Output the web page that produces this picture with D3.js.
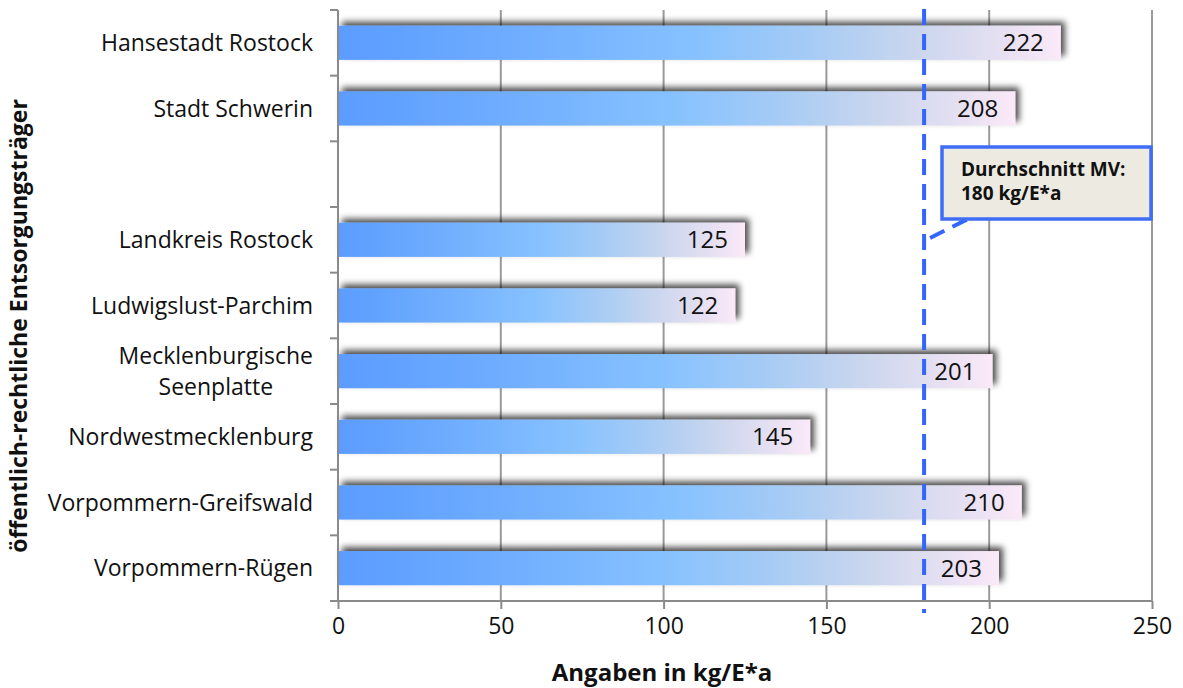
<!DOCTYPE html>
<html>
<head>
<meta charset="utf-8">
<script src="https://cdn.jsdelivr.net/npm/d3@7"></script>
<style>
  html, body { margin: 0; padding: 0; background: #fff; }
  svg { display: block; }
  text { font-family: "Open Sans", "Noto Sans", sans-serif; fill: #111; }
</style>
</head>
<body>
<svg id="chart" width="1183" height="688"></svg>
<script>
// Rows of the chart; the empty entry is a visual gap between the two cities and the districts
const categories = [
  "Hansestadt Rostock",
  "Stadt Schwerin",
  "",
  "Landkreis Rostock",
  "Ludwigslust-Parchim",
  "Mecklenburgische Seenplatte",
  "Nordwestmecklenburg",
  "Vorpommern-Greifswald",
  "Vorpommern-Rügen"
];
const values = [222, 208, null, 125, 122, 201, 145, 210, 203];
const categoryLines = {
  "Mecklenburgische Seenplatte": ["Mecklenburgische", "Seenplatte"]
};
const xTicks = [0, 50, 100, 150, 200, 250];
const average = 180;
const averageLabel = ["Durchschnitt MV:", "180 kg/E*a"];
const xTitle = "Angaben in kg/E*a";
const yTitle = "öffentlich-rechtliche Entsorgungsträger";

const svg = d3.select("#chart");

const x = d3.scaleLinear().domain([0, 250]).range([338, 1152]);
const y = d3.scaleBand()
  .domain(categories.map((c, i) => i))
  .range([10, 601])
  .paddingInner(0.48)
  .paddingOuter(0.24);

const defs = svg.append("defs");
const grad = defs.append("linearGradient")
  .attr("id", "barGrad")
  .attr("x1", "0").attr("x2", "1").attr("y1", "0").attr("y2", "0");
[
  [0, "#5b9cff"],
  [0.25, "#6fadff"],
  [0.5, "#87c2ff"],
  [0.65, "#a5cbf5"],
  [0.8, "#cad6ee"],
  [0.92, "#e6e0f2"],
  [1, "#fbe9f8"]
].forEach(([o, c]) => grad.append("stop").attr("offset", o).attr("stop-color", c));

const shadow = defs.append("filter")
  .attr("id", "barShadow")
  .attr("x", "-5%").attr("y", "-60%").attr("width", "115%").attr("height", "200%");
shadow.append("feDropShadow")
  .attr("dx", 4).attr("dy", -4)
  .attr("stdDeviation", 3)
  .attr("flood-color", "#000")
  .attr("flood-opacity", 0.7);

// Vertical gridlines
svg.append("g")
  .selectAll("line")
  .data(xTicks.filter(t => t > 0))
  .join("line")
  .attr("x1", d => x(d)).attr("x2", d => x(d))
  .attr("y1", 10).attr("y2", 601)
  .attr("stroke", "#9a9a9a")
  .attr("stroke-width", 2);

// Bars
const rows = categories.map((c, i) => ({ c, i, v: values[i] })).filter(d => d.v != null);

svg.append("g")
  .selectAll("rect")
  .data(rows)
  .join("rect")
  .attr("x", x(0))
  .attr("y", d => y(d.i))
  .attr("width", d => x(d.v) - x(0))
  .attr("height", y.bandwidth())
  .attr("fill", "url(#barGrad)")
  .attr("filter", "url(#barShadow)");

// Value labels inside the bar ends
svg.append("g")
  .selectAll("text")
  .data(rows)
  .join("text")
  .attr("x", d => x(d.v) - 17)
  .attr("y", d => y(d.i) + y.bandwidth() / 2 + 8.5)
  .attr("text-anchor", "end")
  .style("font-size", "24px")
  .text(d => d.v);

// Axes
const xAxis = d3.axisBottom(x).tickValues(xTicks).tickSize(8).tickPadding(8);
const gx = svg.append("g").attr("transform", "translate(0,601)").call(xAxis);
gx.select(".domain").attr("stroke", "#8a8a8a").attr("stroke-width", 2)
  .attr("d", `M${x(0) - 8},0H${x(250)}`);
gx.selectAll(".tick line").attr("stroke", "#8a8a8a").attr("stroke-width", 2);
gx.selectAll(".tick text")
  .style("font-size", "23px")
  .style("font-family", '"Open Sans", "Noto Sans", sans-serif')
  .attr("fill", "#111")
  .attr("dy", "0.72em");

// Left axis with ticks on band boundaries
const gy = svg.append("g");
gy.append("line")
  .attr("x1", x(0)).attr("x2", x(0))
  .attr("y1", 10).attr("y2", 601)
  .attr("stroke", "#8a8a8a").attr("stroke-width", 2);
const step = y.step();
const edges = d3.range(categories.length + 1).map(k => 10 + k * step);
gy.selectAll("line.edge")
  .data(edges)
  .join("line")
  .attr("class", "edge")
  .attr("x1", x(0) - 8).attr("x2", x(0))
  .attr("y1", d => d).attr("y2", d => d)
  .attr("stroke", "#8a8a8a").attr("stroke-width", 2);

// Category labels; wrapped names are centred on their widest line
const labelRight = 313;
const lh = 31;
categories.forEach((c, i) => {
  if (!c) return;
  const lines = categoryLines[c] || [c];
  const cy = y(i) + y.bandwidth() / 2;
  const y0 = cy + 8 - (lines.length - 1) * lh / 2;
  const texts = lines.map((ln, k) =>
    svg.append("text")
      .attr("x", labelRight)
      .attr("y", y0 + k * lh)
      .attr("text-anchor", "end")
      .style("font-size", "23px")
      .text(ln)
  );
  if (lines.length > 1) {
    const maxW = d3.max(texts, t => t.node().getComputedTextLength());
    texts.forEach(t => t.attr("text-anchor", "middle").attr("x", labelRight - maxW / 2));
  }
});

// Average reference line
svg.append("line")
  .attr("x1", x(average)).attr("x2", x(average))
  .attr("y1", 9).attr("y2", 613)
  .attr("stroke", "#3366ff")
  .attr("stroke-width", 4)
  .attr("stroke-dasharray", "16 9");

// Callout for the average
svg.append("line")
  .attr("x1", x(average) + 6).attr("y1", 238)
  .attr("x2", 968).attr("y2", 219)
  .attr("stroke", "#3366ff")
  .attr("stroke-width", 4)
  .attr("stroke-dasharray", "16 9");
svg.append("rect")
  .attr("x", 942).attr("y", 147)
  .attr("width", 209).attr("height", 72)
  .attr("fill", "#edebe1")
  .attr("stroke", "#3f6df5")
  .attr("stroke-width", 3.5);
averageLabel.forEach((ln, k) => {
  svg.append("text")
    .attr("x", 961).attr("y", 176 + k * 24)
    .style("font-size", "19px")
    .style("font-weight", "bold")
    .text(ln);
});

// Axis titles
svg.append("text")
  .attr("x", 662).attr("y", 681)
  .attr("text-anchor", "middle")
  .style("font-size", "24px")
  .style("font-weight", "bold")
  .text(xTitle);

svg.append("text")
  .attr("transform", "translate(27,326) rotate(-90)")
  .attr("text-anchor", "middle")
  .style("font-size", "23px")
  .style("font-weight", "bold")
  .text(yTitle);
</script>
</body>
</html>
